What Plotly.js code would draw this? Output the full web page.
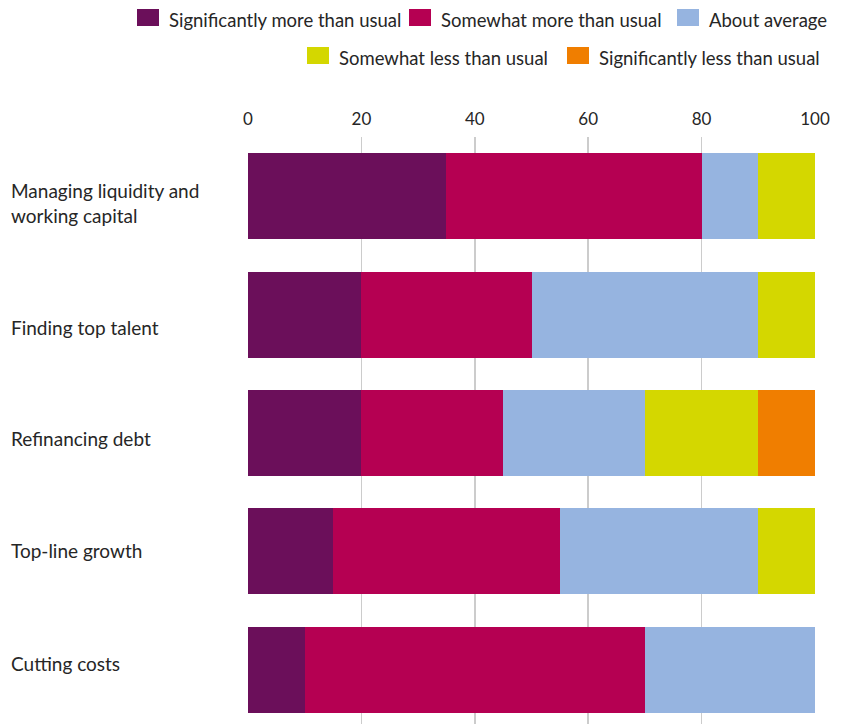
<!DOCTYPE html>
<html>
<head>
<meta charset="utf-8">
<script src="https://cdn.plot.ly/plotly-3.0.1.min.js"></script>
<style>html,body{margin:0;padding:0;background:#fff;}</style>
</head>
<body>
<div id="chart" style="width:842px;height:724px;"></div>
<script>
const categories = ["Managing liquidity and<br>working capital", "Finding top talent", "Refinancing debt", "Top-line growth", "Cutting costs"];
const seriesNames = ["Significantly more than usual", "Somewhat more than usual", "About average", "Somewhat less than usual", "Significantly less than usual"];
const sigMore = [35, 20, 20, 15, 10];
const somewhatMore = [45, 30, 25, 40, 60];
const aboutAverage = [10, 40, 25, 35, 30];
const somewhatLess = [10, 10, 20, 10, 0];
const sigLess = [0, 0, 10, 0, 0];
const xTicks = [0, 20, 40, 60, 80, 100];

const colors = ["#6b0f5a", "#b50052", "#96b4e0", "#d4d700", "#f07e00"];
const seriesValues = [sigMore, somewhatMore, aboutAverage, somewhatLess, sigLess];

// layout constants (pixel positions of the legend keys and label offsets)
const M = {l: 248, r: 27, t: 137, b: 0};
const plotW = 842 - M.l - M.r, plotH = 724 - M.t - M.b;
const px2x = px => (px - M.l) / plotW;
const py2y = py => 1 - (py - M.t) / plotH;
const legendKeyLeft = [137, 409, 677, 307, 567];
const legendKeyMidY = [17.5, 17.5, 17.5, 55.5, 55.5];
const legendKeyW = 22, legendKeyH = 17;
const labelShift = [-7, -13, -6, 1, 6];

const cats = categories.map((c, i) => "c" + i);
const traces = seriesValues.map((vals, i) => ({
  type: "bar", orientation: "h", x: vals, y: cats, name: seriesNames[i],
  marker: {color: colors[i], line: {width: 0}}, showlegend: false, hoverinfo: "x+name"
}));

const fam = "Lato, 'Open Sans', sans-serif";
const txt = "#262626";
const catFont = {family: fam, size: 19, color: txt};
const legFont = {family: fam, size: 18.5, color: txt};
const tickFont = {family: fam, size: 17, color: txt};

const annotations = categories.map((c, i) => ({
  xref: "paper", yref: "y", x: px2x(9), y: cats[i], yshift: labelShift[i], text: c, showarrow: false,
  xanchor: "left", yanchor: "middle", align: "left", font: catFont
}));
const shapes = [];
seriesNames.forEach((n, i) => {
  const x0 = legendKeyLeft[i], yc = legendKeyMidY[i];
  shapes.push({
    type: "rect", xref: "paper", yref: "paper",
    x0: px2x(x0), x1: px2x(x0 + legendKeyW), y0: py2y(yc - legendKeyH / 2), y1: py2y(yc + legendKeyH / 2),
    fillcolor: colors[i], line: {width: 0}, layer: "above"
  });
  annotations.push({
    xref: "paper", yref: "paper", x: px2x(x0 + 30), y: py2y(yc + 2.5), text: n, showarrow: false,
    xanchor: "left", yanchor: "middle", align: "left", font: legFont
  });
});

const layout = {
  width: 842, height: 724,
  margin: {l: M.l, r: M.r, t: M.t, b: M.b, pad: 0},
  barmode: "stack", bargap: 0.273,
  font: tickFont, showlegend: false,
  paper_bgcolor: "#fff", plot_bgcolor: "#fff",
  xaxis: {
    side: "top", range: [0, 100], tickvals: xTicks, ticktext: xTicks.map(String),
    showgrid: true, gridcolor: "#cccccc", gridwidth: 1.5, zeroline: false,
    showline: false, ticks: "", ticklabelstandoff: 8, tickfont: tickFont, fixedrange: true
  },
  yaxis: {
    type: "category", categoryarray: cats, range: [4.46, -0.5],
    showticklabels: false, showgrid: false, zeroline: false, ticks: "", fixedrange: true
  },
  annotations: annotations,
  shapes: shapes
};

Plotly.newPlot("chart", traces, layout, {displayModeBar: false, staticPlot: true});
</script>
</body>
</html>
